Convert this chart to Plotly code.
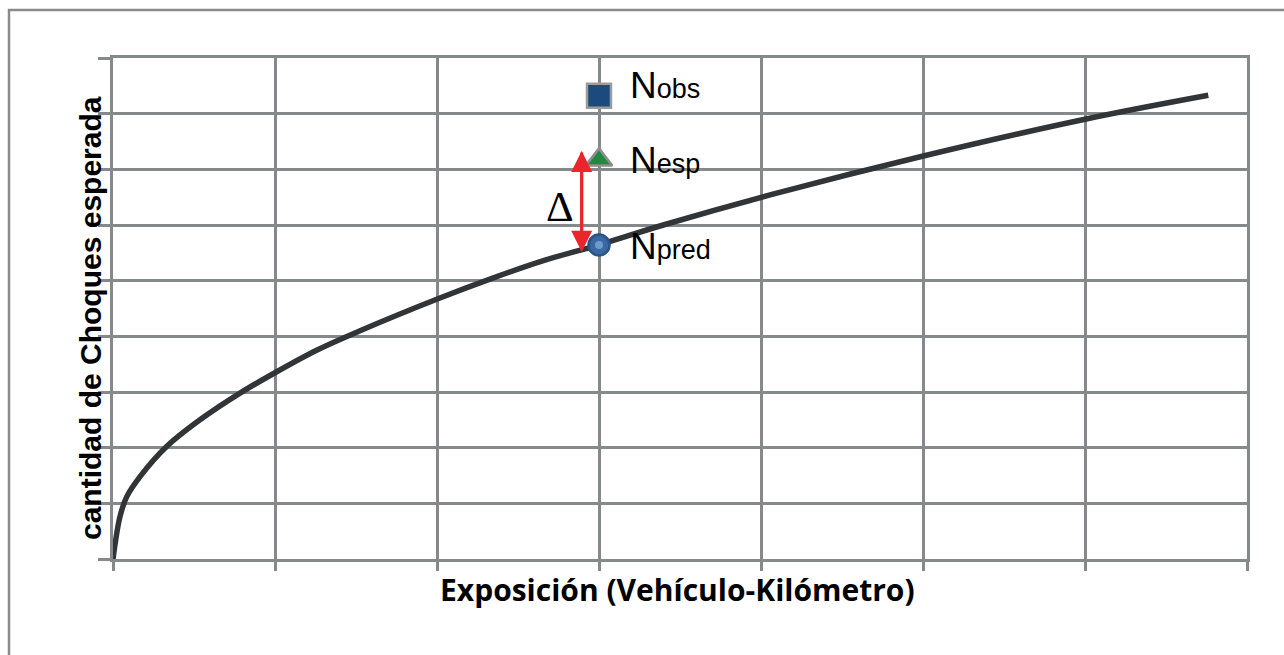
import plotly.graph_objects as go

# ---- data ----
exposure = [0, 0.043, 0.085, 0.167, 0.331, 0.537, 0.784, 0.990, 1.257, 1.525,
            2.002, 2.348, 2.657, 2.996, 3.397, 4.056, 5.002, 6.0, 6.761]
crashes = [0, 0.76, 1.12, 1.48, 2.02, 2.50, 2.98, 3.33, 3.75, 4.10,
           4.67, 5.05, 5.36, 5.64, 6.0, 6.54, 7.24, 7.90, 8.33]

site_x = 3.0
n_obs = 8.32
n_esp = 7.17
n_pred = 5.64
delta_x = 2.893
delta_top = 7.33
delta_bottom = 5.52

label_main = "N"
label_subs = ["obs", "esp", "pred"]
x_title = "Exposición (Vehículo-Kilómetro)"
y_title = "cantidad de Choques esperada"

GRID = "#86898a"

fig = go.Figure()

fig.add_trace(go.Scatter(x=exposure, y=crashes, mode="lines",
                         line=dict(color="#323538", width=5.5, shape="spline", smoothing=1.0),
                         hoverinfo="skip", showlegend=False))

fig.add_trace(go.Scatter(x=[site_x], y=[n_obs], mode="markers",
                         marker=dict(symbol="square", size=24, color="#1b4a7e",
                                     line=dict(color="#9c9c9c", width=2.5)),
                         showlegend=False))
fig.add_trace(go.Scatter(x=[site_x], y=[n_esp], mode="markers",
                         marker=dict(symbol="triangle-up", size=23, color="#1f8a3e",
                                     line=dict(color="#8e8e8e", width=2.5)),
                         showlegend=False))
fig.add_trace(go.Scatter(x=[site_x], y=[n_pred], mode="markers",
                         marker=dict(symbol="circle", size=21, color="#3a68a0",
                                     line=dict(color="#2a5386", width=2.5)),
                         showlegend=False))
fig.add_trace(go.Scatter(x=[site_x], y=[n_pred], mode="markers",
                         marker=dict(symbol="circle", size=8, color="#6d9bd0"),
                         showlegend=False))

# Delta double arrow (each arrow spans the full length so the shaft is continuous)
for head, tail in ((delta_top, delta_bottom), (delta_bottom, delta_top)):
    fig.add_annotation(x=delta_x, y=head, ax=delta_x, ay=tail,
                       xref="x", yref="y", axref="x", ayref="y",
                       text="", showarrow=True, arrowhead=2, arrowsize=1.4,
                       arrowwidth=3, arrowcolor="#e8262b", standoff=0, startstandoff=0)

fig.add_annotation(x=2.76, y=6.33, xref="x", yref="y", text="Δ", showarrow=False,
                   font=dict(family="Liberation Serif", size=43, color="#000000"))

for sub, yv in zip(label_subs, [n_obs + 0.18, n_esp - 0.01, n_pred - 0.02]):
    txt = label_main + "<span style='font-size:27px'>" + sub + "</span>"
    fig.add_annotation(x=3.18, y=yv, xref="x", yref="y", text=txt, showarrow=False,
                       xanchor="left", yanchor="middle",
                       font=dict(family="Liberation Sans", size=37, color="#000000"))

fig.add_annotation(x=(677 - 113) / 1134, y=(559 - 589) / 501, xref="paper", yref="paper",
                   text="<b>" + x_title + "</b>", showarrow=False,
                   xanchor="center", yanchor="middle",
                   font=dict(family="Open Sans", size=30, color="#000000"))
fig.add_annotation(x=(90 - 113) / 1134, y=(559 - 318) / 501, xref="paper", yref="paper",
                   text="<b>" + y_title + "</b>", showarrow=False, textangle=-90,
                   xanchor="center", yanchor="middle",
                   font=dict(family="Liberation Sans", size=30, color="#000000"))

# outer frame
fig.add_shape(type="rect", xref="paper", yref="paper",
              x0=(9 - 113) / 1134, x1=(1295 - 113) / 1134,
              y0=(559 - 670) / 501, y1=(559 - 10) / 501,
              line=dict(color="#8a8a8a", width=2.5), layer="below")

fig.update_xaxes(range=[0, 7], dtick=1, tick0=0, showgrid=True, gridcolor=GRID,
                 gridwidth=2.5, showline=True, mirror=True, linecolor=GRID, linewidth=2.5,
                 ticks="outside", ticklen=9, tickwidth=2.5, tickcolor=GRID,
                 showticklabels=False, zeroline=False, fixedrange=True)
fig.update_yaxes(range=[0, 9], dtick=1, tick0=0, showgrid=True, gridcolor=GRID,
                 gridwidth=2.5, showline=True, mirror=True, linecolor=GRID, linewidth=2.5,
                 ticks="outside", ticklen=12, tickwidth=2.5, tickcolor=GRID,
                 showticklabels=False, zeroline=False, fixedrange=True)

fig.update_layout(width=1284, height=655,
                  margin=dict(l=113, r=37, t=58, b=96),
                  paper_bgcolor="white", plot_bgcolor="white",
                  showlegend=False)

fig.write_html("out.html", post_script="document.body.style.margin='0';",
               config={"displayModeBar": False})
